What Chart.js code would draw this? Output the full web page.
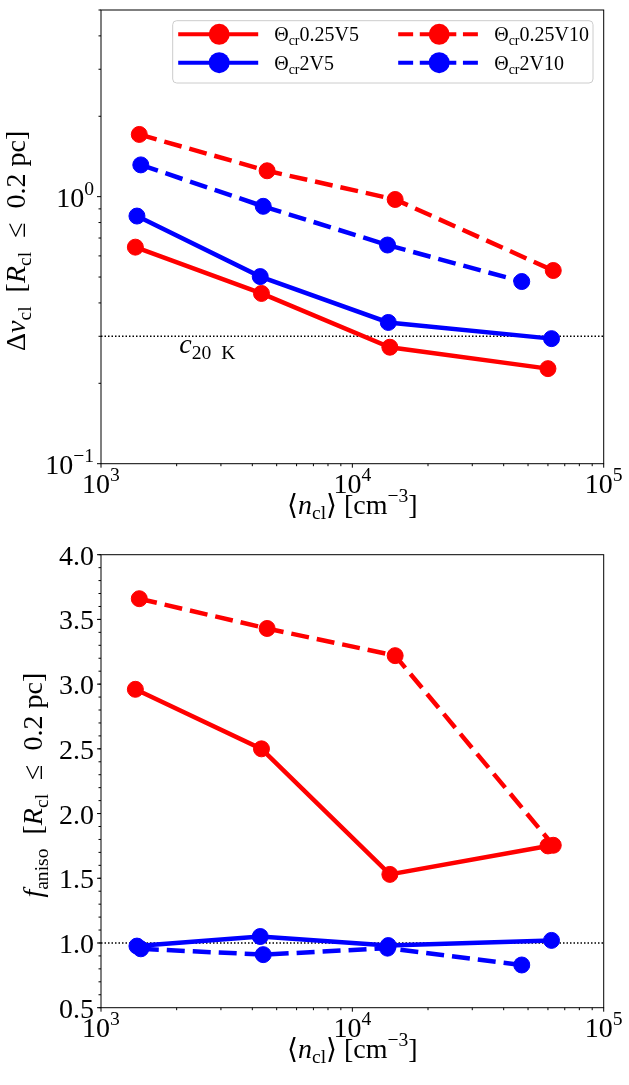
<!DOCTYPE html>
<html>
<head>
<meta charset="utf-8">
<script src="https://cdn.jsdelivr.net/npm/chart.js@4.4.1/dist/chart.umd.min.js"></script>
<style>
  html, body { margin: 0; padding: 0; background: #fff; }
  .panel { position: absolute; left: 0; width: 629px; }
  .panel canvas { display: block; }
  #top { top: 0; height: 540px; }
  #bottom { top: 540px; height: 545px; }
</style>
</head>
<body>
<div class="panel" id="top"><canvas id="dvChart" width="629" height="540"></canvas></div>
<div class="panel" id="bottom"><canvas id="faChart" width="629" height="545"></canvas></div>
<script>
// legend tags, shown as Θcr + tag
const seriesTags = ['0.25V5', '2V5', '0.25V10', '2V10'];

// mean cloud density <n_cl> [cm^-3] for each run
const nTheta025V5 = [1370, 4350, 14100, 60000];
const nTheta2V5 = [1390, 4300, 13900, 62000];
const nTheta025V10 = [1420, 4580, 14800, 63000];
const nTheta2V10 = [1440, 4420, 13800, 47200];

// velocity dispersion inside 0.2 pc
const dvTheta025V5 = [0.647, 0.434, 0.273, 0.227];
const dvTheta2V5 = [0.846, 0.502, 0.338, 0.294];
const dvTheta025V10 = [1.71, 1.25, 0.976, 0.529];
const dvTheta2V10 = [1.315, 0.920, 0.659, 0.481];

// anisotropy factor inside 0.2 pc
const faTheta025V5 = [2.96, 2.50, 1.53, 1.75];
const faTheta2V5 = [0.976, 1.05, 0.98, 1.02];
const faTheta025V10 = [3.66, 3.43, 3.22, 1.755];
const faTheta2V10 = [0.955, 0.91, 0.96, 0.83];

// reference levels
const nRange = [1e3, 1e5];
const soundSpeed20K = 0.3;
const isotropicLevel = 1.0;

// labelled ticks
const nTicks = [1e3, 1e4, 1e5];
const dvTicks = [0.1, 1];
const faTicks = [0.5, 1.0, 1.5, 2.0, 2.5, 3.0, 3.5, 4.0];

const FONT = '"Liberation Serif", "DejaVu Serif", serif';
const RED = '#ff0000';
const BLUE = '#0000ff';
const SP = '\u2002'; // wider gap, like TeX spacing

// draw a line of text made of pieces: r = roman, i = italic, sub / sup = scripts
function drawRich(ctx, segs, x, y, size, align, angle) {
  ctx.save();
  ctx.translate(x, y);
  if (angle) ctx.rotate(angle);
  const parts = segs.map(([text, kind]) => {
    const script = kind.startsWith('sub') || kind.startsWith('sup');
    const fs = script ? size * 0.7 : size;
    const font = (kind.endsWith('i') ? 'italic ' : '') + fs + 'px ' + FONT;
    ctx.font = font;
    const dy = kind.startsWith('sub') ? size * 0.2 : kind.startsWith('sup') ? -size * 0.42 : 0;
    return { text, font, dy, w: ctx.measureText(text).width };
  });
  const total = parts.reduce((s, p) => s + p.w, 0);
  let cx = align === 'center' ? -total / 2 : align === 'right' ? -total : 0;
  ctx.textAlign = 'left';
  ctx.textBaseline = 'alphabetic';
  ctx.fillStyle = '#000';
  parts.forEach(p => {
    ctx.font = p.font;
    ctx.fillText(p.text, cx, p.dy);
    cx += p.w;
  });
  ctx.restore();
}

const powerLabel = v => [['10', 'r'], [String(Math.round(Math.log10(v))).replace('-', '\u2212'), 'sup']];

function logMinors(min, max) {
  const out = [];
  for (let e = Math.floor(Math.log10(min)); e <= Math.ceil(Math.log10(max)); e++) {
    for (let m = 2; m <= 9; m++) {
      const v = m * Math.pow(10, e);
      if (v >= min && v <= max) out.push(v);
    }
  }
  return out;
}

// frame, ticks, tick labels, axis titles, annotation and legend
const decorPlugin = {
  id: 'decor',
  afterDraw(chart, args, opts) {
    const ctx = chart.ctx;
    const { left, right, top, bottom } = chart.chartArea;
    const xs = chart.scales.x;
    const ys = chart.scales.y;
    ctx.save();
    ctx.strokeStyle = '#000';
    ctx.lineWidth = 1;

    const tick = (x1, y1, x2, y2) => {
      ctx.beginPath(); ctx.moveTo(x1, y1); ctx.lineTo(x2, y2); ctx.stroke();
    };

    // x ticks
    logMinors(xs.min, xs.max).forEach(v => {
      const px = xs.getPixelForValue(v);
      tick(px, bottom, px, bottom + 2.5);
    });
    nTicks.forEach(v => {
      const px = xs.getPixelForValue(v);
      tick(px, bottom, px, bottom + 4);
      drawRich(ctx, powerLabel(v), px, bottom + 29, 28, 'center');
    });

    // y ticks
    if (opts.yLog) {
      logMinors(ys.min, ys.max).forEach(v => {
        const py = ys.getPixelForValue(v);
        tick(left, py, left - 2.5, py);
      });
    } else {
      for (let k = Math.round(ys.min * 10); k <= Math.round(ys.max * 10); k++) {
        const py = ys.getPixelForValue(k / 10);
        tick(left, py, left - 2.5, py);
      }
    }
    opts.yTicks.forEach(v => {
      const py = ys.getPixelForValue(v);
      tick(left, py, left - 4, py);
      const segs = opts.yLog ? powerLabel(v) : [[v.toFixed(1), 'r']];
      drawRich(ctx, segs, left - 7, py + 10, 28, 'right');
    });

    // frame
    ctx.strokeRect(left, top, right - left, bottom - top);

    // axis titles
    const xTitle = [['\u27e8', 'r'], ['n', 'i'], ['cl', 'sub'], ['\u27e9 [cm', 'r'], ['\u22123', 'sup'], [']', 'r']];
    drawRich(ctx, xTitle, (left + right) / 2, bottom + 50, 28, 'center');
    drawRich(ctx, opts.yTitle, opts.yTitleX, (top + bottom) / 2 + 4, 28, 'center', -Math.PI / 2);

    // annotation under the reference line
    if (opts.note) {
      const nx = xs.getPixelForValue(opts.note.x);
      const ny = ys.getPixelForValue(opts.note.y);
      drawRich(ctx, opts.note.segs, nx, ny + 17, 28, 'left');
    }

    // two column legend
    if (opts.legend) {
      const bx = 172.7, by = 20.7, bw = 420.3, bh = 62.3;
      ctx.fillStyle = 'rgba(255,255,255,0.8)';
      ctx.strokeStyle = '#cccccc';
      ctx.beginPath();
      ctx.roundRect(bx, by, bw, bh, 4);
      ctx.fill();
      ctx.stroke();
      chart.data.datasets.filter(d => d.tag).forEach((d, i) => {
        const x0 = bx + 5.5 + Math.floor(i / 2) * 220;
        const y0 = by + 13.6 + (i % 2) * 28.4;
        ctx.strokeStyle = d.borderColor;
        ctx.lineWidth = 4;
        ctx.setLineDash(d.borderDash.map(v => v * 0.83));
        ctx.beginPath(); ctx.moveTo(x0, y0); ctx.lineTo(x0 + 80, y0); ctx.stroke();
        ctx.setLineDash([]);
        ctx.fillStyle = d.borderColor;
        ctx.beginPath(); ctx.arc(x0 + 41, y0, 10.5, 0, Math.PI * 2); ctx.fill();
        drawRich(ctx, [['\u0398', 'r'], ['cr', 'sub'], [d.tag, 'r']], x0 + 96, y0 + 7, 20, 'left');
      });
    }
    ctx.restore();
  }
};

function series(xs, ys, color, dashed, tag, order) {
  return {
    label: '\u0398cr' + tag,
    tag,
    order,
    data: xs.map((x, i) => ({ x, y: ys[i] })),
    borderColor: color,
    backgroundColor: color,
    borderWidth: 4.5,
    borderDash: dashed ? [18, 8] : [],
    pointRadius: 8,
    pointHoverRadius: 8,
    pointBorderWidth: 1,
    tension: 0,
    fill: false
  };
}

function refLine(level) {
  return {
    label: 'ref',
    order: 10,
    data: nRange.map(x => ({ x, y: level })),
    borderColor: '#000',
    borderWidth: 1.5,
    borderDash: [1.5, 2],
    pointRadius: 0,
    fill: false
  };
}

function makeChart(id, datasets, yScale, padding, decor) {
  return new Chart(document.getElementById(id), {
    type: 'line',
    data: { datasets },
    options: {
      responsive: false,
      animation: false,
      layout: { padding },
      plugins: { legend: { display: false }, tooltip: { enabled: false }, decor },
      scales: {
        x: { type: 'logarithmic', min: nRange[0], max: nRange[1], display: false },
        y: Object.assign({ display: false }, yScale)
      }
    },
    plugins: [decorPlugin]
  });
}

// --- top panel: velocity dispersion ---
makeChart('dvChart', [
  refLine(soundSpeed20K),
  series(nTheta025V5, dvTheta025V5, RED, false, seriesTags[0], 4),
  series(nTheta2V5, dvTheta2V5, BLUE, false, seriesTags[1], 3),
  series(nTheta025V10, dvTheta025V10, RED, true, seriesTags[2], 2),
  series(nTheta2V10, dvTheta2V10, BLUE, true, seriesTags[3], 1)
], { type: 'logarithmic', min: 0.1, max: 5 },
{ left: 101, right: 25.3, top: 10, bottom: 76.3 },
{
  yLog: true,
  yTicks: dvTicks,
  yTitle: [['\u0394', 'r'], ['v', 'i'], ['cl', 'sub'], [SP + '[', 'r'], ['R', 'i'], ['cl', 'sub'],
           [SP + '\u2264' + SP + '0.2 pc]', 'r']],
  yTitleX: 25,
  note: { x: 2050, y: soundSpeed20K, segs: [['c', 'i'], ['20' + SP + 'K', 'sub']] },
  legend: true
});

// --- bottom panel: anisotropy ---
makeChart('faChart', [
  refLine(isotropicLevel),
  series(nTheta025V5, faTheta025V5, RED, false, null, 4),
  series(nTheta2V5, faTheta2V5, BLUE, false, null, 3),
  series(nTheta025V10, faTheta025V10, RED, true, null, 2),
  series(nTheta2V10, faTheta2V10, BLUE, true, null, 1)
], { type: 'linear', min: 0.5, max: 4.0 },
{ left: 101, right: 25.3, top: 14.7, bottom: 77.3 },
{
  yLog: false,
  yTicks: faTicks,
  yTitle: [['f', 'i'], ['aniso', 'sub'], [SP + '[', 'r'], ['R', 'i'], ['cl', 'sub'],
           [SP + '\u2264' + SP + '0.2 pc]', 'r']],
  yTitleX: 42,
  legend: false
});
</script>
</body>
</html>
